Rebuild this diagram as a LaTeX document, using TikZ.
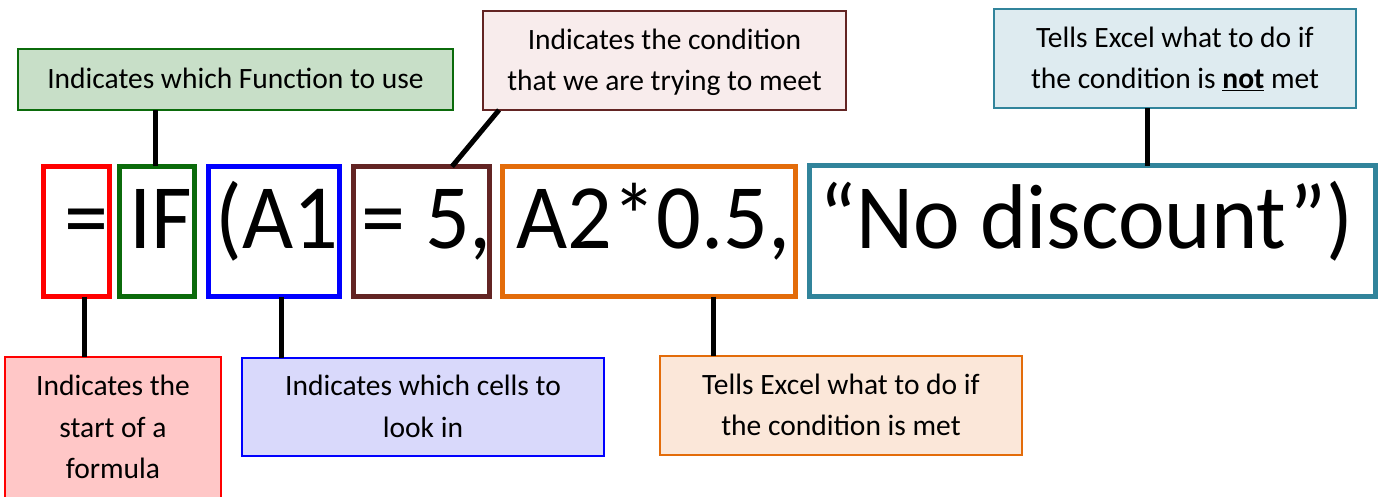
\documentclass[tikz,border=0pt]{standalone}
\usepackage{fontspec}
\setmainfont{Carlito}
\definecolor{cred}{HTML}{FF0000}
\definecolor{cgreen}{HTML}{0B6B0B}
\definecolor{cblue}{HTML}{0000FF}
\definecolor{cbrown}{HTML}{632423}
\definecolor{corange}{HTML}{E36C0A}
\definecolor{cteal}{HTML}{31849B}
\definecolor{fred}{HTML}{FFC7C7}
\definecolor{fgreen}{HTML}{C8DFC8}
\definecolor{fblue}{HTML}{D9D9FB}
\definecolor{fbrown}{HTML}{F8ECEC}
\definecolor{forange}{HTML}{FBE7D9}
\definecolor{fteal}{HTML}{DEEBF0}
\newcommand\lstrut{\rule[-8pt]{0pt}{35pt}}
\newcommand\fsq[1]{\scalebox{0.96}[1]{#1}}
\tikzset{
  fbox/.style={draw=#1, line width=5pt, inner sep=0pt, outer sep=0pt, minimum height=130pt},
  lbox/.style={draw, line width=1.5pt, inner sep=0pt, outer sep=0pt, align=center,
     font=\fontsize{29.5}{41.5}\selectfont},
  ftext/.style={inner sep=0pt, anchor=base, font=\fontsize{92}{100}\selectfont},
  conn/.style={line width=5pt, black}
}
\begin{document}
\begin{tikzpicture}[x=1pt,y=-1pt]
\clip (0,0) rectangle (1382,497);
\fill[white] (0,0) rectangle (1382,497);
% formula boxes
\node[fbox=cred, minimum width=66pt] (fr) at (76.5,231.5) {};
\node[fbox=cgreen, minimum width=75pt] (fg) at (157,231.5) {};
\node[fbox=cblue, minimum width=131pt] (fb) at (274,231.5) {};
\node[fbox=cbrown, minimum width=136pt] (fbr) at (421.5,231.5) {};
\node[fbox=corange, minimum width=293pt] (fo) at (649,231.5) {};
\node[fbox=cteal, minimum width=566pt] (ft) at (1092.5,231) {};
% formula text
\node[ftext] (t1) at (86,249) {\fsq{=}};
\node[ftext] (t2) at (161,249) {\fsq{IF}};
\node[ftext] (t3) at (277,249) {\fsq{(A1}};
\node[ftext] (t4) at (426.5,249) {\fsq{= 5,}};
\node[ftext] (t5) at (653.5,249) {\fsq{A2*0.5,}};
\node[ftext] (t6) at (1086.5,249) {\fsq{“No discount”)}};
% label boxes
\node[lbox, draw=cgreen, fill=fgreen, minimum width=435pt, minimum height=61pt] (lg) at (235.5,79.5) {\lstrut Indicates which Function to use};
\node[lbox, draw=cbrown, fill=fbrown, minimum width=363pt, minimum height=99pt] (lbr) at (664.5,60.5) {\lstrut Indicates the condition\\\lstrut that we are trying to meet};
\node[lbox, draw=cteal, fill=fteal, minimum width=362pt, minimum height=99pt] (lt) at (1175,58.5) {\lstrut Tells Excel what to do if\\\lstrut the condition is \textbf{\underline{not}} met};
\node[lbox, draw=cred, fill=fred, minimum width=216pt, minimum height=141pt] (lr) at (113,427.5) {\lstrut Indicates the\\\lstrut start of a\\\lstrut formula};
\node[lbox, draw=cblue, fill=fblue, minimum width=362pt, minimum height=98pt] (lb) at (423,407) {\lstrut Indicates which cells to\\\lstrut look in};
\node[lbox, draw=corange, fill=forange, minimum width=362pt, minimum height=99pt] (lo) at (841,405.5) {\lstrut Tells Excel what to do if\\\lstrut the condition is met};
% connectors
\draw[conn] (fg.north -| 155,0) -- (lg.south -| 155,0);
\draw[conn] (lbr.south -| 499,0) -- (fbr.north -| 452,0);
\draw[conn] (ft.north -| 1147,0) -- (lt.south -| 1147,0);
\draw[conn] (fr.south -| 84,0) -- (lr.north -| 84,0);
\draw[conn] (fb.south -| 281,0) -- (lb.north -| 281,0);
\draw[conn] (fo.south -| 713,0) -- (lo.north -| 713,0);
\end{tikzpicture}
\end{document}
